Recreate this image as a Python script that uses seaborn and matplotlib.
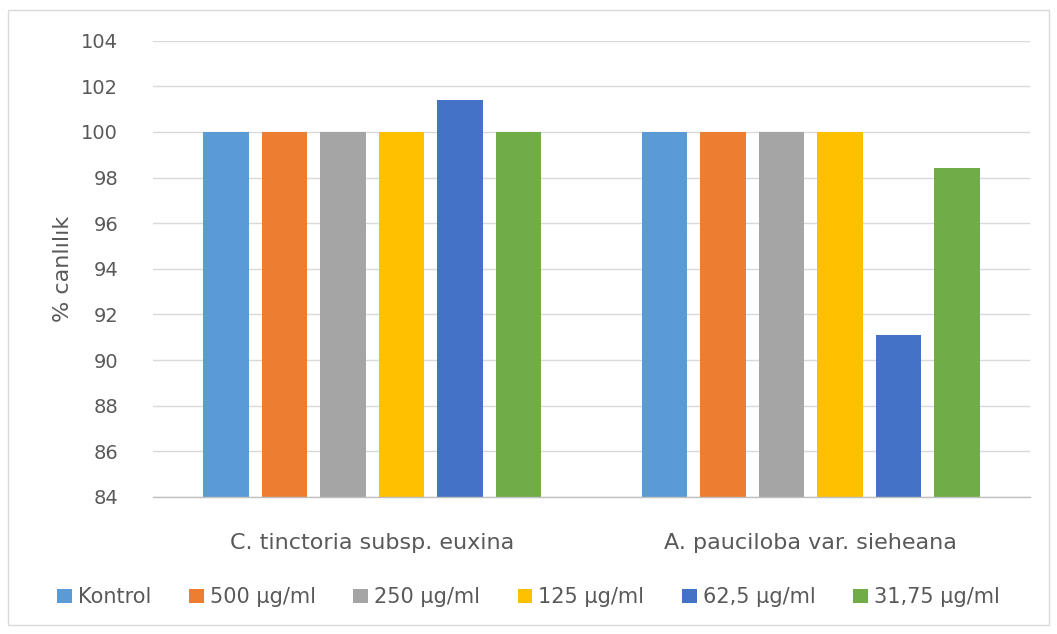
import matplotlib
matplotlib.use("Agg")
import matplotlib.pyplot as plt
from matplotlib.patches import Rectangle
import seaborn as sns
import pandas as pd

species = ["C. tinctoria subsp. euxina", "A. pauciloba var. sieheana"]
doses = ["Kontrol", "500 µg/ml", "250 µg/ml", "125 µg/ml", "62,5 µg/ml", "31,75 µg/ml"]
viability_tinctoria = [100, 100, 100, 100, 101.4, 100]
viability_pauciloba = [100, 100, 100, 100, 91.1, 98.4]
colors = ["#5B9BD5", "#ED7D31", "#A5A5A5", "#FFC000", "#4472C4", "#70AD47"]
yticks = [84, 86, 88, 90, 92, 94, 96, 98, 100, 102, 104]

rows = []
for sp, vals in zip(species, [viability_tinctoria, viability_pauciloba]):
    for d, v in zip(doses, vals):
        rows.append({"species": sp, "dose": d, "viability": v})
df = pd.DataFrame(rows)

sns.set_theme(style="white")
plt.rcParams["font.family"] = ["DejaVu Sans"]
text_color = "#595959"

fig = plt.figure(figsize=(10.57, 6.34), dpi=100)
ax = fig.add_axes([0.1447, 0.2161, 0.8298, 0.7197])

sns.barplot(data=df, x="species", y="viability", hue="dose",
            order=species, hue_order=doses, palette=colors,
            width=0.8, gap=0.22, saturation=1, ax=ax, legend=True,
            errorbar=None)

# bars start from the lower axis limit
for bar in ax.patches:
    y0 = bar.get_y()
    h = bar.get_height()
    bar.set_y(84)
    bar.set_height(y0 + h - 84)
    bar.set_linewidth(0)

ax.set_ylim(84, 104)
ax.set_yticks(yticks)
ax.set_xlim(-0.5, 1.5)
ax.yaxis.grid(True, color="#D9D9D9", linewidth=1)
ax.set_axisbelow(True)
for side in ["top", "right", "left"]:
    ax.spines[side].set_visible(False)
ax.spines["bottom"].set_color("#BFBFBF")
ax.spines["bottom"].set_linewidth(1)
ax.tick_params(axis="y", length=0, labelsize=14, colors=text_color, pad=25)
ax.tick_params(axis="x", length=0, labelsize=16, colors=text_color, pad=26)
ax.set_xlabel("")
ax.set_ylabel("% canlılık", fontsize=16, color=text_color, labelpad=6)

handles, labels = ax.get_legend_handles_labels()
ax.legend_.remove()
fig.legend(handles, labels, loc="center", bbox_to_anchor=(0.5, 0.058),
           ncol=6, frameon=False, fontsize=15, handlelength=0.7,
           handleheight=0.7, handletextpad=0.3, columnspacing=1.8,
           labelcolor=text_color)

fig.patches.append(Rectangle((8 / 1057, 1 - 625 / 634), 1041 / 1057, 615 / 634,
                             transform=fig.transFigure, fill=False,
                             edgecolor="#D9D9D9", linewidth=1))

fig.savefig("out.png", dpi=100, facecolor="white")
